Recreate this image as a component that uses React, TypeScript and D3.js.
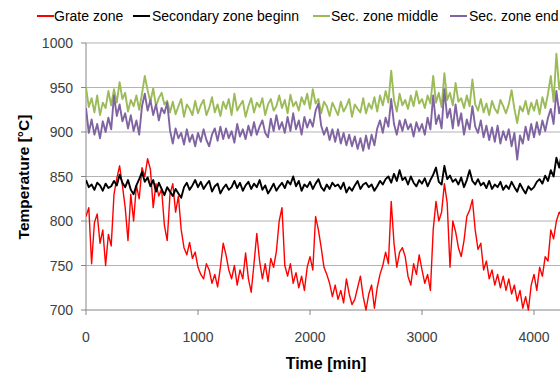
import React from "react";
import * as d3 from "d3";

// Sampling interval of the series (min); values every 25 min
const TIME_STEP = 25;

const xTicks = [0, 1000, 2000, 3000, 4000];
const yTicks = [700, 750, 800, 850, 900, 950, 1000];

const seriesNames = ["Grate zone", "Secondary zone beginn", "Sec. zone middle", "Sec. zone end"];
const seriesColors = ["#ff0000", "#000000", "#9bbb59", "#8064a2"];

const grateZone = [
  805, 815, 752, 798, 808, 775, 790, 750, 785, 772,
  830, 848, 862, 840, 815, 778, 830, 800, 840, 825,
  860, 850, 870, 858, 815, 842, 828, 836, 795, 778,
  830, 842, 810, 828, 790, 770, 762, 776, 758, 765,
  748, 740, 735, 752, 745, 730, 740, 726, 748, 775,
  762, 745, 735, 750, 728, 745, 735, 764, 735, 720,
  752, 786, 755, 735, 752, 732, 758, 748, 766, 800,
  815, 750, 738, 752, 730, 742, 725, 738, 722, 748,
  760, 745, 805, 790, 770, 748, 740, 730, 715, 728,
  712, 722, 708, 735, 718, 706, 712, 725, 738, 715,
  700, 718, 728, 702, 725, 740, 750, 765, 752, 822,
  775, 748, 765, 770, 760, 738, 728, 752, 740, 762,
  745, 730, 740, 722, 790, 822, 800, 810, 842, 820,
  748, 800, 788, 770, 760, 778, 805, 812, 824, 790,
  768, 775, 745, 755, 735, 745, 728, 740, 725, 738,
  722, 735, 718, 728, 710, 722, 702, 715, 700, 728,
  740, 722, 748, 738, 760, 755, 790, 780, 800, 810,
  805, 815, 808,
];

const secondaryBegin = [
  846, 838, 841, 835, 843, 840, 834, 842, 837, 839,
  845, 840, 852, 843, 838, 846, 835, 830, 840, 847,
  855, 844, 849, 839, 846, 833, 843, 836, 829, 838,
  833, 828, 836, 831, 826, 838, 843, 835, 840, 846,
  838, 844, 836, 841, 845, 833, 839, 842, 831, 837,
  841, 835, 838, 845, 837, 843, 834, 840, 844, 836,
  842, 838, 846, 835, 840, 831, 836, 842, 834, 839,
  843, 837, 845, 841, 850, 839, 845, 834, 841, 838,
  844, 836, 842, 847, 838, 834, 841, 836, 843, 839,
  841, 836, 843, 832, 838, 834, 840, 845, 836, 841,
  843, 838, 841, 834, 839, 845, 841, 847, 850, 843,
  853, 845, 857, 846, 849, 841, 850, 843, 839, 846,
  842, 848, 839, 846, 852, 860, 844, 841, 862, 847,
  851, 844, 847, 841, 849, 838, 846, 857, 845, 841,
  847, 840, 843, 837, 845, 836, 841, 838, 844, 835,
  840, 836, 844, 838, 833, 842, 836, 831, 839, 835,
  838, 844, 847, 842, 851, 845, 857, 850, 871, 860,
  877, 866, 881,
];

const secMiddle = [
  950, 928, 938, 922, 941, 919, 933, 927, 946, 930,
  948, 933, 956, 937, 944, 923, 936, 929, 941, 925,
  943, 963, 947, 934, 949, 929, 938, 944, 931, 935,
  922, 934, 920, 929, 937, 917, 931, 926, 919, 935,
  921, 930, 936, 919, 927, 939, 922, 931, 918, 934,
  926, 937, 919, 943, 924, 930, 935, 917, 929, 938,
  922, 933, 928, 938, 919, 931, 937, 924, 929, 941,
  927, 936, 921, 942, 929, 934, 924, 939, 931, 943,
  926, 948, 932, 937, 921, 934, 929, 918, 933, 926,
  919, 934, 923, 929, 937, 917, 931, 926, 922, 938,
  921, 932, 926, 939, 923, 941, 930, 946, 933, 969,
  936, 923, 943, 930, 936, 926, 941, 929, 946, 932,
  937, 927, 941, 932, 963, 933, 944, 928, 966, 936,
  944, 930, 955, 934, 938, 927, 941, 929, 959, 931,
  924, 937, 922, 932, 919, 935, 926, 921, 936, 929,
  921, 931, 947, 926, 910, 929, 923, 935, 920, 933,
  924, 936, 920, 939, 927, 943, 963, 934, 988, 948,
  966, 941, 972,
];

const secEnd = [
  927, 899, 914, 897, 909, 893, 912, 900, 916, 903,
  941, 918, 931, 912, 921, 904, 919, 901, 913, 897,
  929, 943, 924, 936, 919, 931, 913, 927, 921, 933,
  902, 887, 904, 893, 899, 886, 903, 889, 897, 884,
  899, 889, 903, 891, 884, 897, 904, 890, 906, 892,
  904, 893, 901, 888, 909, 895, 903, 892, 907, 896,
  911, 897, 906, 913, 899, 894, 915, 901, 919, 903,
  911, 899, 917, 901, 921, 903, 913, 897, 917, 905,
  914, 906, 924, 932, 907, 897, 905, 891, 903, 889,
  903, 887, 899, 885, 897, 884, 895, 881, 893, 879,
  896, 881, 897, 885, 904, 913, 899, 916, 906, 937,
  909, 897, 913, 901, 914, 903, 909, 895, 911, 901,
  909, 897, 916, 903, 941, 909, 919, 904, 948, 916,
  926, 904, 931, 907, 921, 897, 914, 903, 929, 906,
  899, 913, 894, 907, 891, 905, 889, 907, 887, 901,
  891, 903, 884, 899, 869, 896, 887, 906, 891, 909,
  894, 911, 897, 913, 901, 916, 926, 909, 946, 921,
  936, 914, 941,
];

const allSeries = [grateZone, secondaryBegin, secMiddle, secEnd];

const W = 560;
const H = 376;
const FONT = "'Liberation Sans', Arial, sans-serif";

export default function App() {
  const x = d3.scaleLinear().domain([0, 4400]).range([86, 86 + 4400 * 0.112]);
  const y = d3.scaleLinear().domain([700, 1000]).range([310, 43]);
  const line = d3
    .line<number>()
    .x((_, i) => x(i * TIME_STEP))
    .y((d) => y(d));

  const legendItems = [
    { lx: 37, tx: 54 },
    { lx: 133, tx: 152 },
    { lx: 313, tx: 331 },
    { lx: 450, tx: 469 },
  ];

  const widths = [1.4, 1.9, 1.9, 1.9];

  return (
    <svg
      width={W}
      height={H}
      style={{ position: "absolute", left: 0, top: 0, background: "#fff" }}
      fontFamily={FONT}
    >
      <defs>
        <clipPath id="plot">
          <rect x={86} y={40} width={W} height={272} />
        </clipPath>
      </defs>
      {yTicks.slice(1).map((t) => (
        <line key={t} x1={86} x2={W} y1={y(t)} y2={y(t)} stroke="#b3b3b3" strokeWidth={1} />
      ))}
      <line x1={86} x2={86} y1={y(1000)} y2={310} stroke="#868686" />
      <line x1={86} x2={W} y1={310} y2={310} stroke="#868686" />
      {yTicks.map((t) => (
        <g key={t}>
          <line x1={81} x2={86} y1={y(t)} y2={y(t)} stroke="#868686" />
          <text x={73} y={y(t) + 5} textAnchor="end" fontSize={14} fill="#404040">
            {t}
          </text>
        </g>
      ))}
      {xTicks.map((t) => (
        <g key={t}>
          <line x1={x(t)} x2={x(t)} y1={310} y2={315} stroke="#868686" />
          <text x={x(t)} y={342} textAnchor="middle" fontSize={14} fill="#404040">
            {t}
          </text>
        </g>
      ))}
      <g clipPath="url(#plot)">
        {allSeries.map((s, i) => (
          <path
            key={i}
            d={line(s) || ""}
            fill="none"
            stroke={seriesColors[i]}
            strokeWidth={widths[i]}
            strokeLinejoin="round"
          />
        ))}
      </g>
      <text x={326} y={369} textAnchor="middle" fontSize={16} fontWeight="bold" fill="#000">
        Time [min]
      </text>
      <text
        transform="translate(29,177) rotate(-90)"
        textAnchor="middle"
        fontSize={15.5}
        fontWeight="bold"
        fill="#000"
      >
        Temperature [°C]
      </text>
      {seriesNames.map((n, i) => (
        <g key={n}>
          <line
            x1={legendItems[i].lx}
            x2={legendItems[i].lx + 17}
            y1={16}
            y2={16}
            stroke={seriesColors[i]}
            strokeWidth={2}
          />
          <text x={legendItems[i].tx} y={21} fontSize={14} fill="#000">
            {n}
          </text>
        </g>
      ))}
    </svg>
  );
}
